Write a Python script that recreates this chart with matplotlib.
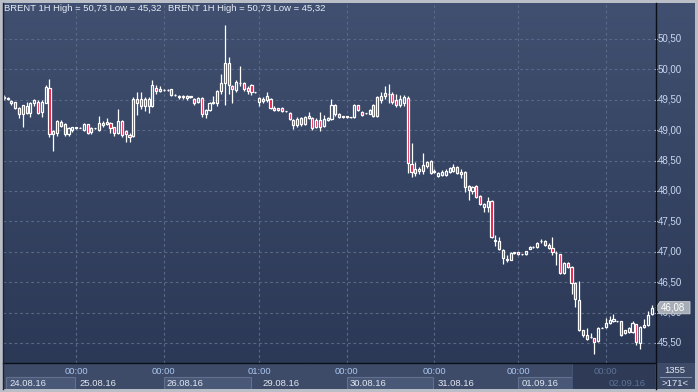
import numpy as np
import matplotlib
matplotlib.use("Agg")
import matplotlib.pyplot as plt
from matplotlib.colors import LinearSegmentedColormap
from matplotlib.patches import Rectangle, Polygon
from matplotlib.lines import Line2D

plt.rcParams['font.family'] = ['Liberation Sans', 'DejaVu Sans']

# ---------------- data ----------------
opens = [49.55, 49.53, 49.44, 49.46, 49.37, 49.27, 49.40, 49.28, 49.44, 49.47,
         49.30, 49.45, 49.70, 48.94, 48.95, 49.13, 49.10, 48.93, 49.00, 49.05,
         49.04, 49.01, 49.10, 48.97, 49.03, 49.00, 49.08, 49.10, 49.12, 49.05,
         48.95, 49.15, 48.98, 48.92, 48.90, 49.45, 49.52, 49.40, 49.52, 49.40,
         49.70, 49.64, 49.66, 49.66, 49.67, 49.58, 49.55, 49.57, 49.53, 49.56,
         49.52, 49.46, 49.53, 49.26, 49.33, 49.44, 49.45, 49.65, 49.77, 50.10,
         49.72, 49.66, 49.77, 49.77, 49.70, 49.74, 49.62, 49.53, 49.48, 49.50,
         49.52, 49.37, 49.36, 49.37, 49.31, 49.28, 49.16, 49.08, 49.20, 49.10,
         49.20, 49.20, 49.17, 49.17, 49.07, 49.17, 49.19, 49.41, 49.26, 49.21,
         49.23, 49.21, 49.21, 49.41, 49.30, 49.28, 49.27, 49.41, 49.23, 49.50,
         49.56, 49.59, 49.60, 49.50, 49.42, 49.45, 49.53, 48.44, 48.30, 48.33,
         48.33, 48.41, 48.49, 48.33, 48.25, 48.26, 48.26, 48.31, 48.33, 48.39,
         48.32, 48.31, 48.08, 48.00, 48.08, 47.92, 47.74, 47.74, 47.84, 47.17,
         47.18, 47.03, 46.87, 46.87, 46.98, 46.99, 46.96, 46.96, 47.05, 47.08,
         47.08, 47.18, 47.18, 47.11, 47.06, 46.98, 46.96, 46.65, 46.82, 46.75,
         46.49, 46.21, 45.71, 45.63, 45.60, 45.58, 45.53, 45.75, 45.76, 45.83,
         45.86, 45.86, 45.86, 45.66, 45.68, 45.68, 45.81, 45.50, 45.76, 45.80,
         45.98]
highs = [49.58, 49.55, 49.49, 49.47, 49.38, 49.42, 49.47, 49.47, 49.52, 49.50,
         49.50, 49.75, 49.84, 49.00, 49.17, 49.17, 49.12, 49.05, 49.06, 49.06,
         49.05, 49.12, 49.11, 49.05, 49.04, 49.23, 49.15, 49.20, 49.14, 49.06,
         49.35, 49.16, 49.00, 48.95, 49.55, 49.62, 49.62, 49.55, 49.55, 49.82,
         49.75, 49.72, 49.67, 49.67, 49.68, 49.59, 49.58, 49.58, 49.58, 49.57,
         49.53, 49.54, 49.54, 49.35, 49.47, 49.56, 49.66, 49.93, 50.73, 50.20,
         49.75, 49.82, 50.05, 49.80, 49.72, 49.76, 49.63, 49.54, 49.55, 49.62,
         49.53, 49.40, 49.37, 49.38, 49.32, 49.30, 49.18, 49.21, 49.22, 49.24,
         49.30, 49.22, 49.20, 49.30, 49.25, 49.22, 49.52, 49.43, 49.28, 49.24,
         49.24, 49.22, 49.43, 49.42, 49.31, 49.29, 49.35, 49.43, 49.56, 49.63,
         49.73, 49.76, 49.62, 49.60, 49.58, 49.58, 49.56, 48.79, 48.48, 48.40,
         48.63, 48.50, 48.51, 48.36, 48.31, 48.34, 48.36, 48.40, 48.44, 48.41,
         48.36, 48.33, 48.10, 48.08, 48.10, 47.94, 47.80, 47.90, 47.86, 47.27,
         47.24, 47.04, 46.95, 47.00, 47.00, 47.00, 46.97, 47.02, 47.09, 47.09,
         47.16, 47.21, 47.19, 47.14, 47.25, 47.01, 46.97, 46.84, 46.84, 46.76,
         46.50, 46.52, 45.72, 45.75, 45.66, 45.59, 45.77, 45.77, 45.91, 45.95,
         45.97, 45.87, 45.87, 45.72, 45.76, 45.86, 45.82, 45.78, 45.90, 46.02,
         46.12]
lows = [49.50, 49.50, 49.42, 49.35, 49.20, 49.05, 49.26, 49.22, 49.40, 49.27,
        49.22, 49.44, 48.88, 48.65, 48.90, 49.05, 48.90, 48.90, 48.97, 49.02,
        49.03, 48.98, 48.94, 48.94, 49.02, 48.98, 49.05, 49.08, 48.95, 48.90,
        48.93, 48.88, 48.80, 48.80, 48.88, 49.25, 49.35, 49.32, 49.28, 49.38,
        49.60, 49.63, 49.65, 49.65, 49.56, 49.57, 49.52, 49.52, 49.50, 49.53,
        49.42, 49.45, 49.21, 49.20, 49.31, 49.43, 49.40, 49.60, 49.42, 49.60,
        49.45, 49.62, 49.72, 49.65, 49.60, 49.58, 49.61, 49.40, 49.44, 49.47,
        49.35, 49.31, 49.32, 49.30, 49.30, 49.17, 49.02, 49.05, 49.07, 49.08,
        49.18, 49.01, 49.03, 48.98, 49.05, 49.15, 49.17, 49.24, 49.20, 49.20,
        49.20, 49.20, 49.20, 49.32, 49.24, 49.27, 49.26, 49.22, 49.21, 49.45,
        49.52, 49.45, 49.43, 49.38, 49.38, 49.40, 48.30, 48.23, 48.25, 48.28,
        48.28, 48.38, 48.28, 48.30, 48.23, 48.24, 48.24, 48.30, 48.31, 48.28,
        48.22, 47.98, 47.85, 47.95, 47.88, 47.77, 47.66, 47.66, 47.22, 47.10,
        47.03, 46.80, 46.84, 46.86, 46.97, 46.95, 46.95, 46.95, 47.04, 47.07,
        47.07, 47.15, 47.10, 47.05, 46.94, 46.78, 46.63, 46.63, 46.73, 46.30,
        46.10, 45.70, 45.60, 45.55, 45.58, 45.32, 45.52, 45.74, 45.75, 45.81,
        45.84, 45.85, 45.62, 45.65, 45.67, 45.66, 45.47, 45.40, 45.74, 45.78,
        45.96]
closes = [49.53, 49.52, 49.48, 49.37, 49.27, 49.41, 49.28, 49.45, 49.49, 49.29,
          49.47, 49.71, 48.94, 48.99, 49.15, 49.07, 48.94, 49.03, 49.05, 49.04,
          49.04, 49.10, 48.96, 49.03, 49.03, 49.12, 49.12, 49.13, 49.04, 48.95,
          49.15, 48.92, 48.93, 48.88, 49.52, 49.52, 49.40, 49.52, 49.40, 49.75,
          49.65, 49.67, 49.66, 49.66, 49.58, 49.58, 49.57, 49.54, 49.57, 49.54,
          49.45, 49.53, 49.27, 49.33, 49.45, 49.46, 49.65, 49.77, 50.10, 49.75,
          49.67, 49.80, 49.78, 49.68, 49.64, 49.62, 49.62, 49.46, 49.52, 49.56,
          49.37, 49.33, 49.33, 49.31, 49.31, 49.19, 49.08, 49.19, 49.10, 49.22,
          49.23, 49.03, 49.06, 49.06, 49.18, 49.20, 49.41, 49.26, 49.22, 49.23,
          49.21, 49.21, 49.41, 49.33, 49.25, 49.28, 49.34, 49.24, 49.55, 49.56,
          49.61, 49.60, 49.46, 49.42, 49.52, 49.55, 48.46, 48.31, 48.36, 48.36,
          48.43, 48.48, 48.30, 48.32, 48.30, 48.31, 48.33, 48.38, 48.39, 48.30,
          48.28, 48.07, 48.02, 48.06, 47.90, 47.79, 47.79, 47.84, 47.24, 47.20,
          47.05, 46.90, 46.88, 46.98, 46.99, 46.96, 46.96, 47.01, 47.08, 47.08,
          47.14, 47.18, 47.11, 47.06, 47.00, 46.98, 46.65, 46.82, 46.75, 46.49,
          46.22, 45.71, 45.63, 45.57, 45.60, 45.52, 45.75, 45.75, 45.83, 45.88,
          45.90, 45.86, 45.63, 45.71, 45.75, 45.83, 45.52, 45.76, 45.80, 45.96,
          46.08]

price_ticks = [45.5, 46.0, 46.5, 47.0, 47.5, 48.0, 48.5, 49.0, 49.5, 50.0, 50.5]
price_tick_labels = ["45,50", "46,00", "46,50", "47,00", "47,50", "48,00",
                     "48,50", "49,00", "49,50", "50,00", "50,50"]
day_idx = [19, 42, 67, 90, 113, 135, 158]
time_labels = ["00:00", "00:00", "01:00", "00:00", "00:00", "00:00", "00:00"]
date_labels = ["24.08.16", "25.08.16", "26.08.16", "29.08.16", "30.08.16",
               "31.08.16", "01.09.16", "02.09.16"]
title_text = "BRENT 1H High = 50,73 Low = 45,32"
last_price = 46.08
last_label = "46,08"
corner_top = "1355"
corner_bottom = ">171<"

# ---------------- layout ----------------
W, H = 698, 392
fig = plt.figure(figsize=(W / 100, H / 100), dpi=100, facecolor="#b9bec7")


def frac(x0, y0, x1, y1):
    return [x0 / W, 1 - y1 / H, (x1 - x0) / W, (y1 - y0) / H]


bg = LinearSegmentedColormap.from_list("bg", ["#415070", "#2b3856"])
grad = np.linspace(0, 1, 256).reshape(-1, 1)

XLIM = (-0.2, 170.9)
YLIM = (45.171, 51.092)
grid_col = "#5a6886"
txt_col = "#c9d8f0"
fs = 6.8

# main axes
ax = fig.add_axes(frac(3, 3, 655, 363))
ax.imshow(grad, cmap=bg, extent=[0, 1, 0, 1], transform=ax.transAxes,
          aspect="auto", zorder=0)
ax.set_xlim(*XLIM)
ax.set_ylim(*YLIM)
ax.axis("off")

for p in price_ticks:
    ax.axhline(p, color=grid_col, lw=0.8, ls=(0, (2.5, 2.5)), zorder=1)
for d in day_idx:
    ax.axvline(d, color=grid_col, lw=0.8, ls=(0, (2.5, 2.5)), zorder=1)

o = np.array(opens)
h = np.array(highs)
l = np.array(lows)
c = np.array(closes)
x = np.arange(len(o))
top = np.maximum(o, c)
bot = np.minimum(o, c)
up = c >= o

ax.vlines(x, top, h, color="white", lw=0.9, zorder=2)
ax.vlines(x, l, bot, color="white", lw=0.9, zorder=2)
face = np.where(up, "none", "#e4103c")
ax.bar(x, top - bot, bottom=bot, width=0.55, color=list(face),
       edgecolor="white", linewidth=0.9, zorder=3)

# titles
ax.text(1.5 / 652, 1 - 6 / 360, title_text, transform=ax.transAxes, color="#e6ecf6",
        fontsize=fs, va="center", ha="left", zorder=5)
ax.text(165 / 652, 1 - 6 / 360, title_text, transform=ax.transAxes, color="#e6ecf6",
        fontsize=fs, va="center", ha="left", zorder=5)

# right price axis
axr = fig.add_axes(frac(655, 3, 695, 363))
axr.imshow(grad, cmap=bg, extent=[0, 1, 0, 1], transform=axr.transAxes,
           aspect="auto", zorder=0)
axr.set_xlim(0, 40)
axr.set_ylim(*YLIM)
axr.axis("off")
for p, lab in zip(price_ticks, price_tick_labels):
    axr.plot([0, 1.5], [p, p], color=txt_col, lw=0.8, zorder=2)
    axr.text(3, p, lab, color=txt_col, fontsize=7.0, va="center", ha="left",
             zorder=2)
# last price marker (drawn over the 46,00 label, as in the original)
ph = 0.1
axr.add_patch(Polygon([[1, last_price], [5, last_price + ph], [35, last_price + ph],
                       [35, last_price - ph], [5, last_price - ph]],
                      closed=True, facecolor="#a7adb6", edgecolor="#d0d4da",
                      lw=0.6, zorder=4))
axr.text(6, last_price, last_label, color="white", fontsize=7.0, va="center",
         ha="left", zorder=5)

# bottom time axis
axb = fig.add_axes(frac(3, 363, 655, 389))
axb.set_xlim(*XLIM)
axb.set_ylim(26, 0)
axb.axis("off")
axb.add_patch(Rectangle((0, 0), 1, 1, transform=axb.transAxes,
                        facecolor="#3e4b68", zorder=0))

starts = [0.6] + day_idx
ends = day_idx + [XLIM[1]]
for k, lab in enumerate(date_labels):
    s, e = starts[k], ends[k]
    if k % 2 == 0 and k < 7:
        e2 = e - 0.3 if k != 2 else e - 2.2
        axb.add_patch(Rectangle((s, 14), e2 - s, 12.5, facecolor="#4a5878",
                                edgecolor="#62708e", lw=0.8, zorder=1))
    if k < 7:
        axb.text(s + 0.8, 20.5, lab, color="#e2e8f2", fontsize=fs,
                 va="center", ha="left", zorder=3)

for d, t in zip(day_idx[:-1], time_labels[:-1]):
    axb.text(d, 8, t, color="#a9c6ee", fontsize=fs, va="center", ha="center",
             zorder=3)

# shaded (future) region
shade_start = 149.2
axb.add_patch(Rectangle((shade_start, 0), XLIM[1] - shade_start, 26,
                        facecolor="#2e3a56", edgecolor="#4a5878", lw=0.6, zorder=4))
axb.text(day_idx[-1], 8, time_labels[-1], color="#5f7396", fontsize=fs,
         va="center", ha="center", zorder=5)
axb.text(day_idx[-1] + 0.8, 20.5, date_labels[-1], color="#5f7396", fontsize=fs,
         va="center", ha="left", zorder=5)

# corner box
axc = fig.add_axes(frac(655, 363, 695, 389))
axc.set_xlim(0, 40)
axc.set_ylim(26, 0)
axc.axis("off")
axc.add_patch(Rectangle((0, 0), 1, 1, transform=axc.transAxes,
                        facecolor="#3e4b68", zorder=0))
axc.text(20, 7.5, corner_top, color="#e2e8f2", fontsize=fs, va="center", ha="center")
axc.plot([5, 36], [14, 14], color="#7f8eab", lw=0.8)
axc.text(20, 20.5, corner_bottom, color="#e2e8f2", fontsize=fs, va="center",
         ha="center")

# frame lines
def pxline(x0, y0, x1, y1, col, lw=1.0):
    fig.add_artist(Line2D([x0 / W, x1 / W], [1 - y0 / H, 1 - y1 / H],
                          color=col, lw=lw, transform=fig.transFigure, zorder=10))

pxline(3, 363, 655, 363, "#0b0f18", 1.0)
pxline(655.5, 3, 655.5, 389, "#0b0f18", 1.0)
pxline(2.5, 3, 2.5, 389, "#1c2434", 1.0)

fig.savefig("out.png", dpi=100, facecolor=fig.get_facecolor())
